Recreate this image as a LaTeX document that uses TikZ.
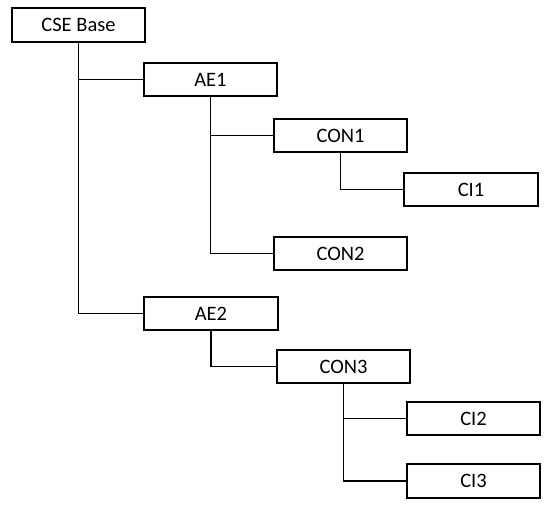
\documentclass[tikz,border=0pt]{standalone}
\usepackage{fontspec}
\setmainfont{Carlito}
\usetikzlibrary{positioning}

\begin{document}
\begin{tikzpicture}[
        x=0.03cm, y=-0.03cm,
        res/.style={draw, line width=1.5pt, minimum width=4cm,
                    minimum height=1cm, inner sep=0pt,
                    font=\fontsize{17.5}{20}\selectfont},
        link/.style={line width=1.5pt}
      ]
      \useasboundingbox (0,0) rectangle (550,509);

      \node[res] (cse)  at (78.5,25)    {CSE Base};
      \node[res] (ae1)  at (210.5,79.5) {AE1};
      \node[res] (con1) at (340.5,135.5) {CON1};
      \node[res] (ci1)  at (471,189.5)  {CI1};
      \node[res] (con2) at (340.5,253.5) {CON2};
      \node[res] (ae2)  at (211,313.5)  {AE2};
      \node[res] (con3) at (343.5,366.5) {CON3};
      \node[res] (ci2)  at (473.5,418.5) {CI2};
      \node[res] (ci3)  at (473.5,481)  {CI3};

      % tree branches
      \draw[link] (cse.south)  |- (ae1.west);
      \draw[link] (cse.south)  |- (ae2.west);
      \draw[link] (ae1.south)  |- (con1.west);
      \draw[link] (ae1.south)  |- (con2.west);
      \draw[link] (con1.south) |- (ci1.west);
      \draw[link] (ae2.south)  |- (con3.west);
      \draw[link] (con3.south) |- (ci2.west);
      \draw[link] (con3.south) |- (ci3.west);
    \end{tikzpicture}
\end{document}
